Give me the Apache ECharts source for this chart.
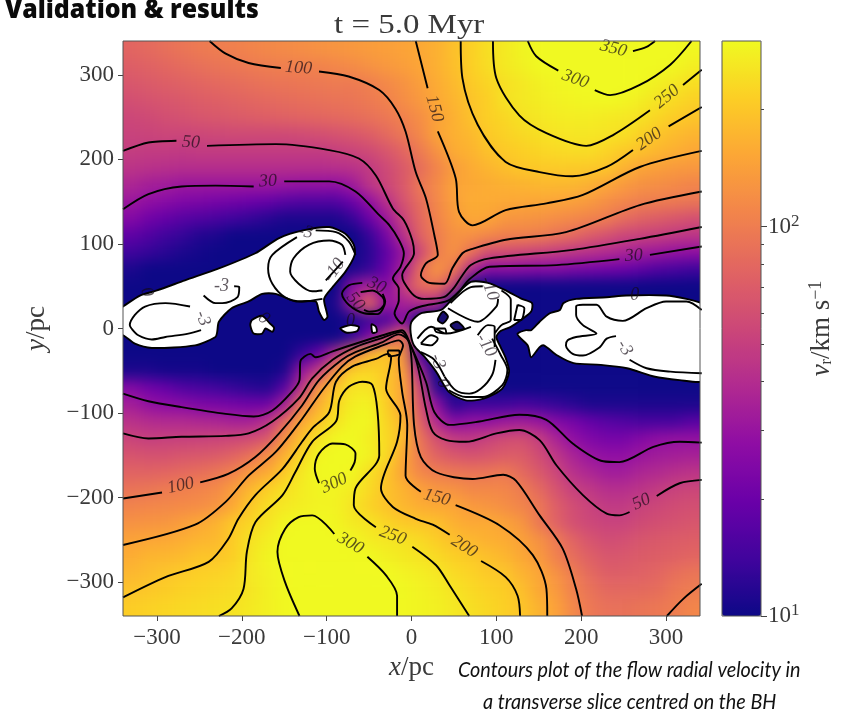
<!DOCTYPE html>
<html><head><meta charset="utf-8">
<style>html,body{margin:0;padding:0;background:#fff}#c{width:846px;height:713px}</style>
<script src="https://cdn.jsdelivr.net/npm/echarts@6/dist/echarts.min.js"></script>
</head><body><div id="c"></div>
<script>
const xCells=[-330,-310,-290,-270,-250,-230,-210,-190,-170,-150,-130,-110,-90,-70,-50,-30,-10,10,30,50,70,90,110,130,150,170,190,210,230,250,270,290,310,330];
const yCells=[330,310,290,270,250,230,210,190,170,150,130,110,90,70,50,30,10,-10,-30,-50,-70,-90,-110,-130,-150,-170,-190,-210,-230,-250,-270,-290,-310,-330];
const radialVelocity=[
[78,82,87,92,97,100,104,108,112,116,120,124,128,132,137,142,147,155,165,190,215,245,265,290,310,330,340,345,345,348,352,345,320,295],
[72,75,79,83,87,91,94,97,100,102,104,106,110,116,124,132,140,150,165,188,215,240,265,280,300,305,320,330,335,335,330,315,295,275],
[66,69,72,75,78,81,84,87,90,92,94,96,98,97,102,112,125,140,158,180,205,225,245,262,280,290,297,303,315,310,300,280,262,243],
[60,63,65,68,71,73,76,79,81,84,86,88,90,92,97,105,118,133,155,173,195,215,250,262,272,282,288,293,298,290,272,255,235,218],
[55,57,60,62,65,67,69,71,73,75,77,79,81,84,88,95,105,120,145,165,192,215,230,250,260,268,272,272,265,260,250,228,210,197],
[52,53,54,54,55,56,57,57,57,57,58,60,63,66,72,82,95,112,149,165,178,204,220,232,245,255,258,258,252,245,218,198,183,172],
[49,48,48,47,48,48,48,48,48,48,48,48,50,53,57,65,78,98,125,160,170,192,205,215,225,232,238,238,222,205,192,175,165,153],
[44,43,42,41,41,41,41,41,41,41,41,41,42,43,47,56,68,85,108,138,158,172,188,202,205,207,207,203,198,168,150,142,135,132],
[37,34,33,31,31,31,31,31,31,30,29,29,28,32,45,54,68,95,115,148,155,160,165,170,175,177,175,165,150,135,125,120,115,108],
[31,28,26,24,23,22,21,20,19,17,16,16,16,20,28,42,62,85,112,143,160,158,155,153,152,148,143,133,120,110,102,100,97,93],
[25,21,19,17,16,15,14,13,12,11,11,11,11,13,20,31,52,80,108,135,155,150,132,128,126,118,113,106,99,84,76,71,66,61],
[18,16,14,13,11.5,11,10,10,10,10,10,10,10,10,13,22,42,75,100,125,122,112,104,105,100,90,82,70,62,54,52,50,47,45],
[14,13,12,11,10.5,10,10,10,10,10,10,10,10,10,12,18,30,55,100,125,90,60,59,55,52,48,45,42,39,36,33,31,29,28],
[11,10,10,10,10,10,10,10,10,10,10,10,10,11,13,20,35,85,130,95,40,26,27,26,25,25,23,22,21,20,18,16,15,14],
[10,10,10,10,10,10,10,10,10,10,10,10,10,28,36,25,50,85,88,50,10,10,10,10,10,10,10,10,10,10,10,10,10,10],
[10,10,10,10,10,10,10,10,10,10,10,10,11,35,85,30,35,40,40,10,10,10,10,10,10,10,10,10,10,10,10,10,10,10],
[10,10,10,10,10,10,10,10,10,10,10,10,10,11,14,15,28,10,10,10,10,10,10,10,10,10,10,10,10,10,10,10,10,10],
[10,10,10,10,10,10,10,10,10,10,10,10,10,13,24,50,100,15,10,10,10,10,10,10,10,10,10,10,10,10,10,10,10,10],
[10,10,10,10,10,10,10,10,10,10,13,20,40,100,170,205,125,15,10,10,10,10,10,10,10,10,10,10,10,10,10,10,10,10],
[11,11,10.5,10.5,10.5,10,10,10,10,11,30,47,130,215,225,205,145,35,10,10,10,10,10,10,10,10,10,10,10,10,10,10,10,10],
[25,21,19,16,15,14,13,12,11.5,17,42,130,195,255,255,200,150,55,12,10,10,10,10,10,10,10,10,10,10,10,10,10,10,10],
[34,29,27,26,24,23,22,21,21,34,98,165,225,275,285,215,148,65,28,12,14,14,14,15,14,13,12,11,11,11,11,11,11,11],
[43,40,39,39,38,37,35,35,43,80,155,198,250,290,295,225,175,75,38,26,29,29,32,33,31,25,22,19,17,16,15,15,15,17],
[53,50,51,51,52,53,55,58,66,125,190,250,295,310,275,235,185,90,60,48,46,52,58,60,50,36,28,24,22,22,25,28,29,29],
[64,62,62,65,67,69,76,88,120,165,230,290,310,305,285,235,155,98,75,66,62,65,70,70,58,46,36,30,28,28,31,33,34,35],
[76,76,78,82,86,93,105,135,155,205,262,300,310,295,245,200,147,110,100,94,92,92,97,82,68,54,42,37,33,33,37,39,42,44],
[91,93,98,103,108,115,140,175,215,245,270,290,285,270,235,195,170,145,130,125,112,113,110,100,82,63,51,46,41,41,44,48,52,54],
[107,110,112,115,118,128,155,205,240,262,275,285,285,255,220,195,175,160,155,150,135,128,120,108,95,72,59,52,47,47,52,55,58,60],
[124,127,130,140,155,170,205,225,255,290,305,310,290,265,255,225,205,198,190,165,155,158,147,130,95,75,60,55,52,52,57,60,62,65],
[147,152,155,162,172,178,210,250,275,305,320,320,310,295,270,260,250,235,210,190,175,165,160,145,125,98,76,64,58,60,65,68,70,72],
[160,174,175,183,197,198,215,258,290,305,330,330,325,310,300,280,265,255,235,215,205,190,175,155,135,105,85,73,65,66,70,72,74,78],
[175,185,197,207,215,220,230,262,280,295,325,340,340,340,325,302,285,275,260,235,220,205,198,170,152,125,100,82,72,72,74,78,86,92],
[195,203,210,220,225,232,240,257,280,297,320,340,345,345,340,330,298,285,275,255,235,220,212,190,155,135,105,90,80,80,82,85,95,100],
[212,220,225,232,238,245,250,265,280,295,305,330,345,345,345,335,295,288,280,262,245,230,215,198,170,145,112,95,88,88,92,95,100,110]];

const plasma=['#0d0887','#41049d','#6a00a8','#8f0da4','#b12a90','#cc4778','#e16462','#f2844b','#fca636','#fcce25','#f0f921'];
const xTickValues=[-300,-200,-100,0,100,200,300];
const yTickValues=[-300,-200,-100,0,100,200,300];
const cbMajor=[10,100];
const cbMinor=[20,30,40,50,60,70,80,90,200];
const cbMax=300;

const c100Top=[[-238,340],[-219,325],[-192,314],[-154,308],null,[-109,304],[-74,298],[-38,282],[-19,260],[-7,233],[5,185],[17,154],[27,110],[31,87],[17,77],[11,63],[21,54],[39,53],[48,71],[60,89],[68,93],[111,105],[182,114],[269,146],[342,162]];
const c50Top=[[-340,210],[-310,220],[-277,222],null,[-241,216],[-160,218],[-97,211],[-62,201],[-42,181],[-22,142],[-9,128],[1,104],[3,89],[-11,63],[-9,55],[3,39],[15,35],[38,37],[50,48],[58,60],[70,75],[92,83],[190,93],[269,106],[342,120]];
const c30Top=[[-340,141],[-310,159],[-271,168],[-231,169],[-186,168],null,[-150,174],[-97,174],[-66,162],[-38,134],[-26,122],[-15,105],[-9,89],[-13,73],[-22,59],[-15,47],[-15,33],[-20,18],[-11,6],[-3,20],[11,26],[43,33],[58,46],[68,58],[92,73],[171,75],[245,82],null,[281,87],[342,97]];
const c150Top=[[5,340],[19,284],null,[31,233],[52,178],[56,138],[72,122],[111,140],[159,148],[202,158],[269,191],[342,210]];
const c200Top=[[58,340],[60,296],[78,241],[111,197],[151,185],[190,180],[230,191],[261,211],null,[303,239],[342,262]];
const c250Top=[[96,340],[100,296],[127,252],[159,231],[206,216],[238,229],[281,258],null,[320,288],[342,306]];
const c300Top=[[137,340],[147,322],[173,305],null,[216,282],[234,276],[269,288],[305,312],[330,340]];
const c350Top=[[261,328],[277,333],[287,340]];
const c30Bottom=[[-340,-77],[-310,-86],[-271,-93],[-219,-101],[-186,-104],[-164,-97],[-141,-75],[-132,-61],[-131,-39],[-119,-30],[-113,-34],[-93,-27],[-66,-18],[-34,-8],[-11,-2],[-1,-20],[17,-63],[27,-99],[45,-114],[80,-110],[127,-102],[159,-108],[190,-136],[226,-157],[245,-158],[285,-140],[316,-134],[342,-135]];
const c50Bottom=[[-340,-124],[-310,-130],[-271,-128],[-219,-127],[-192,-124],[-164,-110],[-133,-83],[-117,-59],[-93,-37],[-66,-22],[-34,-11],[-13,-4],[5,-36],[17,-95],[25,-122],[41,-132],[64,-134],[100,-124],[127,-120],[151,-132],[171,-162],[202,-197],[230,-219],[245,-221],[257,-217],null,[289,-198],[316,-183],[342,-179]];
const c100Bottom=[[-340,-201],[-294,-194],null,[-249,-182],[-216,-172],[-184,-152],[-156,-124],[-129,-91],[-109,-61],[-82,-37],[-66,-28],[-34,-16],[-15,-7],[-4,-14],[0,-36],[3,-114],[11,-152],[29,-170],[72,-178],[108,-173],[123,-180],[151,-221],[178,-260],[194,-308],[201,-340]];
const c100Corner=[[301,-340],[320,-320],[342,-302]];
const c150Bottom=[[-340,-256],[-255,-232],[-219,-205],[-192,-174],[-160,-146],[-129,-107],[-105,-73],[-82,-45],[-66,-33],[-34,-20],[-15,-14],[-10,-20],[-15,-36],[-11,-75],[-5,-114],[-7,-174],[11,-193],null,[52,-209],[104,-233],[143,-268],[159,-308],[160,-340]];
const c200Bottom=[[-340,-318],[-290,-294],[-239,-276],[-216,-249],[-204,-225],[-184,-197],[-152,-166],[-129,-134],[-117,-118],[-97,-99],[-89,-63],[-70,-45],[-42,-36],[-28,-30],[-24,-34],[-30,-71],[-13,-103],[-17,-134],[-36,-189],[-22,-211],[5,-225],[25,-232],[45,-244],null,[82,-275],[111,-294],[125,-316],[128,-340]];
const c200Tip=[[-28,-26],[-15,-26],[-14,-30],[-26,-33],[-28,-26]];
const c250Bottom=[[-227,-340],[-212,-331],[-198,-308],[-194,-264],[-184,-229],[-152,-197],[-137,-170],[-117,-134],[-89,-110],[-85,-85],[-74,-69],[-58,-63],[-46,-67],[-40,-99],[-38,-150],[-66,-189],[-68,-209],[-42,-235],null,[1,-258],[29,-280],[45,-304],[68,-340]];
const c300Loop=[[-109,-183],[-114,-166],[-109,-148],[-93,-136],[-78,-137],[-66,-148],[-67,-158],[-72,-168]];
const c300Bottom=[[-132,-340],[-149,-300],[-158,-264],[-149,-237],[-133,-223],[-117,-221],[-91,-243],null,[-52,-270],[-30,-292],[-17,-316],[-17,-340]];
const c30Blob=[[-58,54],[-74,51],[-82,41],[-74,28],[-56,18],[-40,17],[-31,32],[-34,41]];
const c50Blob=[[-60,43],[-46,45],[-34,37],[-32,30],[-38,22],[-50,20],[-56,22]];

const whiteLeft=[[-365,10],[-340,26],[-320,39],[-300,45],[-267,57],[-227,71],[-184,89],[-156,107],[-128,116],[-97,120],[-78,112],[-68,99],[-67,87],[-78,67],[-93,49],[-103,35],[-99,14],[-103,10],[-109,20],[-113,32],[-137,32],[-160,41],[-176,41],[-192,32],[-212,24],[-227,8],[-229,-4],[-231,-10],[-255,-20],[-306,-23],[-326,-18],[-340,-8],[-365,-2]];
const whiteIslandA=[[-188,10],[-176,15],[-167,6],[-162,1],[-164,-4],[-172,0],[-176,-6],[-186,-6],[-190,4]];
const whiteIslandB=[[-84,0],[-72,4],[-62,2],[-64,-3],[-76,-5]];
const whiteIslandC=[[-47,5],[-42,2],[-41,-4],[-46,-5]];
const whiteCentre=[[0,8],[11,18],[35,22],[50,37],[70,55],[90,54],[113,44],[130,35],[142,30],[141,20],[129,10],[117,2],[105,-3],[100,-10],[105,-22],[111,-35],[115,-51],[107,-71],[85,-83],[64,-85],[44,-75],[29,-51],[15,-33],[3,-20],[-1,-5]];
const whiteRight=[[179,30],[194,35],[230,37],[253,39],[300,39],[324,35],[342,30],[365,20],[365,-50],[342,-63],[316,-61],[287,-57],[254,-47],[223,-43],[191,-41],[172,-32],[156,-20],[151,-22],[141,-34],[137,-20],[127,-10],[125,-6],[135,-2],[141,-2],[151,8],[163,18],[175,22]];
const navyHoleA=[[31,10],[37,20],[43,14],[37,6]];
const navyHoleB=[[46,4],[54,8],[62,0],[52,-2]];

const cNeg3=[[-261,26],[-290,30],[-314,26],[-326,16],[-332,4],[-330,0],[-322,-8],[-306,-13],[-290,-10],[-263,-6],[-248,-2],null,
[-245,39],[-231,30],[-223,30],[-205,37],[-203,49],[-209,50],null,
[-135,108],[-164,87],[-169,71],[-164,53],[-149,37],[-129,32],[-105,35],null,[-113,116],[-89,114],[-74,103],[-66,87],null,
[342,22],[324,32],[300,32],[277,24],[249,9],[230,14],[218,28],[202,28],[194,26],[194,16],[202,4],[218,-6],[194,-10],[184,-14],[182,-20],[190,-30],[202,-32],[222,-22],[230,-12],[241,-9],null,[257,-37],[277,-47],[305,-51],[342,-53],null,
[44,-73],[64,-81],[84,-81],[107,-67],[113,-49],[105,-31],[95,-12],null,
[11,-28],[27,-37],[39,-57]];
const cNeg10=[[-78,87],[-82,99],[-97,104],[-121,99],[-139,83],[-143,67],[-133,53],[-117,44],[-105,45],null,[-101,57],[-81,79],null,
[99,-37],[95,-55],[82,-71],[68,-77],[52,-73],[39,-57],null,
[43,24],[78,8],[100,26],[102,35],null,[125,28],[133,24],[129,10],[121,10],[125,28],null,
[46,30],[70,49],[84,50],null,[106,45],[117,34],[117,10],[106,4],[98,-6],null,
[11,-18],[23,-8],[31,-12],[23,-20],[11,-18],null,[27,0],[39,0],[41,-6],[29,-4],[27,0],null,
[7,-12],[23,2],[41,-6],[70,2],null,[78,-8],[90,4],[98,2],[98,-22]];

const contourLabels=[[-133,308,'100',-4],[-260,220,'50',-3],[-169,174,'30',3],[-125,114,'-3',-10],[-91,69,'-10',55],[-224,50,'-3',0],[-246,12,'-3',-70],[-312,43,'0',-70],[-174,12,'0',-40],[-72,9,'0',0],[-41,51,'30',-25],[-66,32,'50',-50],
[27,260,'150',-75],[193,295,'300',-20],[238,331,'350',-15],[301,274,'250',40],[280,224,'200',35],[262,86,'30',3],[263,39,'0',0],[92,47,'-10',-70],
[-272,-186,'100',12],[-91,-183,'300',25],[-72,-254,'300',-30],[-22,-245,'250',-20],[30,-200,'150',-15],[62,-258,'200',-32],[271,-205,'50',25],[251,-23,'-3',-60],[88,-20,'-10',-60],[31,-39,'-3',-70],[37,-65,'0',-70]];

const contours=[c100Top,c50Top,c30Top,c150Top,c200Top,c250Top,c300Top,c350Top,c30Bottom,c50Bottom,c100Bottom,c100Corner,c150Bottom,c200Bottom,c200Tip,c250Bottom,c300Loop,c300Bottom,c30Blob,c50Blob,cNeg3,cNeg10];
const whites=[whiteLeft,whiteIslandA,whiteIslandB,whiteIslandC,whiteCentre,whiteRight];
const holes=[navyHoleA,navyHoleB];

const heatData=[];
yCells.forEach((y,r)=>xCells.forEach((x,c)=>heatData.push([x,y,Math.log10(radialVelocity[r][c])])));
const lg=Math.log10;
const serif='"Liberation Serif",serif';
const minus=v=>String(v).replace('-','\u2212');
const ink='#3a3a3a';

const series=[];
series.push({type:'custom',zlevel:-1,silent:true,data:heatData,encode:{x:0,y:1},clip:false,animation:false,
 renderItem(p,api){const X=api.value(0),Y=api.value(1),pt=api.coord([X,Y]),s=api.size([20,20]);
  let x=pt[0]-s[0]/2,y=pt[1]-s[1]/2,w=s[0]+.6,h=s[1]+.6;
  if(X===xCells[0]){x-=40;w+=40} if(X===xCells[xCells.length-1]){w+=40}
  if(Y===yCells[0]){y-=40;h+=40} if(Y===yCells[yCells.length-1]){h+=40}
  return {type:'rect',shape:{x,y,width:w,height:h},style:{fill:api.visual('color')}};}});
const polyRender=(list,fill)=>(p,api)=>({type:'polygon',shape:{points:list[api.value(0)].map(q=>api.coord(q)),smooth:.25},style:{fill,stroke:'#000',lineWidth:1.9}});
series.push({type:'custom',silent:true,clip:true,data:whites.map((_,i)=>[i]),encode:{x:0},renderItem:polyRender(whites,'#fff'),animation:false,z:3});
series.push({type:'custom',silent:true,clip:true,data:holes.map((_,i)=>[i]),encode:{x:0},renderItem:polyRender(holes,'#1a0f70'),animation:false,z:3});
contours.forEach(c=>series.push({type:'line',silent:true,data:c.map(q=>q===null?[null,null]:q),symbol:'none',smooth:.3,connectNulls:false,lineStyle:{color:'#000',width:1.9},animation:false,z:4}));
series.push({type:'scatter',silent:true,symbolSize:1,itemStyle:{color:'rgba(0,0,0,0)'},animation:false,z:6,
 data:contourLabels.map(l=>({value:[l[0],l[1]],label:{show:true,position:'inside',formatter:l[2],rotate:l[3],fontFamily:serif,fontStyle:'italic',fontSize:18,color:'rgba(20,10,20,.85)'}}))});

const axisLine={show:false,onZero:false};
const tickStyle={lineStyle:{color:'#444',width:1}};
const nameRich={i:{fontFamily:serif,fontStyle:'italic',fontSize:27,color:ink}};
const option={animation:false,
 grid:[{left:123,right:146,top:41,bottom:97,show:true,borderColor:'#555',borderWidth:1,z:8,backgroundColor:'transparent'},
       {left:722,right:85,top:41,bottom:97,show:true,borderColor:'#555',borderWidth:1,z:8,backgroundColor:'transparent'}],
 xAxis:[{type:'value',min:-340,max:340,gridIndex:0,splitLine:{show:false},axisLine,
   axisTick:{show:true,length:5,customValues:xTickValues,...tickStyle},
   axisLabel:{customValues:xTickValues,formatter:minus,fontFamily:serif,fontSize:23,color:ink,margin:10},
   name:'{i|x}/pc',nameLocation:'middle',nameGap:38,nameTextStyle:{fontFamily:serif,fontSize:27,color:ink,rich:nameRich}},
  {type:'value',min:0,max:1,gridIndex:1,show:false,axisLine}],
 yAxis:[{type:'value',min:-340,max:340,gridIndex:0,splitLine:{show:false},axisLine,
   axisTick:{show:true,length:5,customValues:yTickValues,...tickStyle},
   axisLabel:{customValues:yTickValues,formatter:minus,fontFamily:serif,fontSize:23,color:ink,margin:9},
   name:'{i|y}/pc',nameLocation:'middle',nameGap:73,nameRotate:90,nameTextStyle:{fontFamily:serif,fontSize:27,color:ink,rich:nameRich}},
  {type:'value',min:1,max:lg(cbMax),gridIndex:1,position:'right',splitLine:{show:false},axisLine,
   axisTick:{show:true,length:6,customValues:cbMajor.map(lg),...tickStyle},
   axisLabel:{customValues:cbMajor.map(lg),formatter:v=>'10{s|'+Math.round(v)+'}',fontFamily:serif,fontSize:23,color:ink,margin:7,rich:{s:{fontFamily:serif,fontSize:17,color:ink,padding:[0,0,10,0]}}},
   name:'{i|v}{b|r}/km s{s|\u22121}',nameLocation:'middle',nameGap:46,nameRotate:90,nameTextStyle:{fontFamily:serif,fontSize:27,color:ink,rich:{i:nameRich.i,b:{fontFamily:serif,fontSize:16,color:ink,padding:[9,0,0,0]},s:{fontFamily:serif,fontSize:18,color:ink,padding:[0,0,12,0]}}}},
  {type:'value',min:1,max:lg(cbMax),gridIndex:1,position:'right',splitLine:{show:false},axisLine,axisLabel:{show:false},
   axisTick:{show:true,length:3,customValues:cbMinor.map(lg),...tickStyle}}],
 visualMap:[{type:'continuous',seriesIndex:0,dimension:2,min:1,max:lg(cbMax),inRange:{color:plasma},left:722,top:41,itemWidth:39,itemHeight:575,padding:0,calculable:false,hoverLink:false,show:true,text:null,z:4}],
 graphic:[
  {type:'text',x:5,y:-3,scaleX:.92,style:{text:'Validation & results',font:'800 27px "Open Sans",sans-serif',fill:'#0a0a0a'}},
  {type:'text',x:334,y:12,scaleX:1.22,style:{text:'t = 5.0 Myr',font:'27px "Liberation Serif",serif',fill:ink}},
  {type:'text',x:458,y:659,scaleX:.9,style:{text:'Contours plot of the flow radial velocity in',font:'italic 22px Lato,sans-serif',fill:'#111'}},
  {type:'text',x:483,y:691,scaleX:.9,style:{text:'a transverse slice centred on the BH',font:'italic 22px Lato,sans-serif',fill:'#111'}}],
 series};
const chart=echarts.init(document.getElementById('c'),null,{renderer:'canvas'});
chart.setOption(option);
const layer=document.querySelector('#c canvas[data-zr-dom-id="zr_-1"]')||document.querySelector('#c canvas');
layer.style.filter='blur(7px)';
layer.style.clipPath='inset(41px 146px 97px 123px)';
const top0=document.querySelector('#c canvas[data-zr-dom-id="zr_0"]');
if(top0) top0.style.filter='blur(.45px)';
</script></body></html>
